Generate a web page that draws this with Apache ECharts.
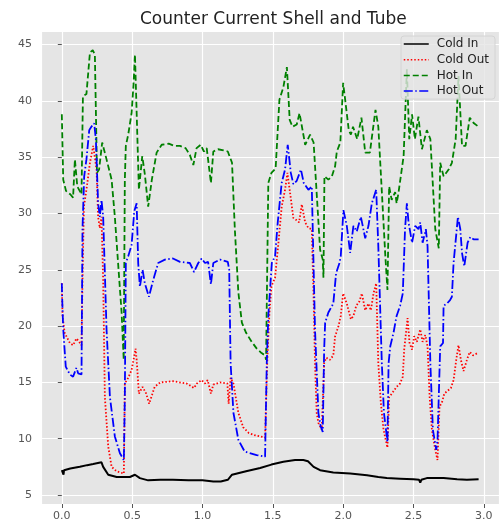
<!DOCTYPE html>
<html>
<head>
<meta charset="utf-8">
<script src="https://cdn.jsdelivr.net/npm/echarts@6/dist/echarts.min.js"></script>
<style>
html,body{margin:0;padding:0;background:#fff;}
#chart{width:499px;height:529px;}
</style>
</head>
<body>
<div id="chart"></div>
<script>
const titleText = 'Counter Current Shell and Tube';
const seriesNames = ['Cold In', 'Cold Out', 'Hot In', 'Hot Out'];

const coldIn = [[0.000,7.2],[0.008,7.3],[0.012,6.8],[0.016,7.2],[0.060,7.35],[0.128,7.5],[0.180,7.65],[0.223,7.75],[0.282,7.9],[0.294,7.5],[0.330,6.8],[0.390,6.6],[0.440,6.6],[0.484,6.6],[0.520,6.8],[0.555,6.5],[0.614,6.3],[0.700,6.35],[0.790,6.35],[0.900,6.3],[1.000,6.3],[1.077,6.2],[1.130,6.2],[1.180,6.35],[1.210,6.8],[1.310,7.1],[1.410,7.4],[1.490,7.7],[1.575,7.95],[1.658,8.1],[1.717,8.1],[1.750,8.0],[1.790,7.5],[1.836,7.2],[1.930,7.0],[2.050,6.9],[2.170,6.75],[2.250,6.6],[2.310,6.5],[2.405,6.45],[2.500,6.4],[2.540,6.35],[2.548,6.1],[2.556,6.35],[2.595,6.5],[2.714,6.5],[2.810,6.4],[2.880,6.35],[2.963,6.4]];

const coldOut = [[0.000,23.8],[0.005,20.9],[0.020,19.4],[0.057,18.5],[0.080,18.3],[0.104,18.9],[0.123,18.6],[0.140,18.3],[0.147,24.1],[0.157,30.6],[0.175,32.1],[0.200,34.5],[0.223,36.0],[0.235,36.1],[0.247,33.9],[0.258,29.7],[0.270,28.7],[0.282,29.7],[0.294,24.1],[0.306,13.7],[0.330,9.3],[0.354,7.5],[0.390,7.1],[0.441,6.9],[0.448,14.9],[0.472,15.4],[0.496,16.1],[0.510,17.0],[0.524,18.0],[0.532,17.0],[0.548,14.0],[0.574,14.6],[0.600,14.0],[0.621,13.1],[0.660,14.6],[0.700,15.0],[0.790,15.1],[0.887,14.9],[0.940,14.5],[0.960,14.9],[0.994,15.2],[1.018,14.9],[1.037,15.2],[1.060,14.0],[1.077,14.8],[1.125,15.0],[1.177,14.9],[1.186,13.1],[1.200,15.4],[1.220,14.9],[1.255,12.3],[1.290,11.0],[1.330,10.5],[1.374,10.3],[1.445,10.1],[1.460,16.7],[1.476,21.2],[1.490,23.5],[1.516,24.3],[1.540,27.4],[1.563,30.6],[1.587,32.1],[1.604,33.6],[1.623,31.8],[1.646,29.6],[1.670,29.4],[1.687,29.2],[1.706,30.8],[1.730,29.2],[1.753,28.7],[1.777,28.6],[1.790,22.6],[1.800,16.7],[1.812,12.3],[1.824,11.4],[1.848,10.8],[1.865,16.7],[1.880,17.2],[1.907,17.0],[1.930,17.4],[1.943,19.1],[1.967,20.0],[1.983,20.9],[2.000,22.9],[2.026,22.0],[2.055,20.6],[2.073,20.9],[2.093,21.8],[2.116,22.2],[2.133,22.9],[2.157,21.4],[2.180,22.0],[2.197,21.4],[2.216,22.9],[2.235,23.8],[2.250,16.7],[2.268,13.2],[2.287,10.8],[2.315,9.2],[2.327,13.7],[2.346,14.0],[2.380,14.6],[2.405,14.9],[2.424,15.5],[2.434,17.9],[2.458,20.7],[2.472,18.5],[2.490,17.9],[2.505,19.1],[2.524,18.6],[2.548,19.7],[2.565,18.6],[2.584,19.2],[2.600,18.2],[2.615,13.7],[2.631,10.8],[2.655,9.0],[2.671,8.1],[2.685,12.85],[2.702,13.2],[2.719,14.0],[2.738,14.2],[2.766,14.5],[2.785,15.2],[2.804,17.0],[2.820,18.3],[2.837,17.0],[2.856,16.0],[2.880,17.0],[2.900,17.7],[2.923,17.4],[2.956,17.6]];

const hotIn = [[0.000,38.8],[0.010,33.0],[0.030,32.0],[0.060,31.7],[0.080,31.4],[0.093,34.8],[0.110,32.4],[0.140,31.7],[0.150,40.4],[0.175,40.6],[0.200,44.3],[0.220,44.5],[0.235,44.1],[0.250,33.6],[0.265,33.9],[0.287,36.3],[0.318,34.8],[0.354,33.0],[0.377,29.7],[0.400,25.6],[0.425,21.2],[0.440,17.0],[0.448,33.0],[0.455,36.0],[0.472,37.0],[0.496,38.9],[0.510,41.5],[0.520,44.1],[0.530,44.0],[0.548,32.1],[0.572,35.1],[0.590,33.5],[0.614,30.6],[0.640,33.0],[0.674,35.4],[0.710,36.1],[0.760,36.2],[0.800,36.0],[0.840,36.0],[0.880,35.8],[0.910,35.2],[0.935,34.3],[0.958,35.8],[0.987,36.1],[1.010,35.5],[1.030,35.8],[1.060,32.7],[1.077,35.5],[1.110,35.7],[1.150,35.6],[1.180,35.5],[1.210,34.5],[1.230,28.6],[1.255,23.0],[1.280,20.3],[1.310,19.4],[1.350,18.6],[1.386,18.0],[1.420,17.6],[1.445,17.4],[1.452,17.0],[1.468,32.7],[1.490,33.6],[1.520,34.0],[1.547,40.1],[1.575,41.2],[1.600,43.0],[1.620,38.3],[1.640,37.7],[1.670,37.9],[1.690,38.9],[1.730,36.1],[1.765,37.0],[1.790,36.3],[1.836,26.8],[1.855,25.9],[1.860,24.3],[1.867,33.3],[1.895,33.0],[1.920,33.3],[1.943,34.2],[1.955,35.5],[1.980,36.3],[2.000,41.6],[2.040,37.4],[2.055,37.0],[2.070,37.7],[2.100,36.6],[2.130,38.5],[2.157,35.4],[2.190,35.4],[2.230,39.2],[2.250,37.7],[2.300,26.2],[2.315,23.2],[2.327,32.4],[2.345,31.2],[2.370,31.9],[2.380,30.9],[2.393,31.8],[2.430,35.1],[2.453,42.8],[2.470,36.6],[2.490,38.8],[2.510,36.6],[2.535,38.6],[2.560,35.7],[2.595,37.4],[2.620,36.6],[2.655,28.6],[2.680,26.9],[2.690,34.5],[2.714,33.3],[2.750,33.9],[2.773,34.5],[2.800,36.6],[2.820,42.2],[2.845,36.0],[2.870,36.0],[2.900,38.5],[2.930,38.0],[2.963,37.7]];

const hotOut = [[0.000,23.8],[0.003,22.3],[0.010,19.7],[0.028,16.4],[0.057,15.7],[0.080,15.5],[0.104,16.3],[0.116,15.8],[0.140,15.7],[0.147,28.6],[0.159,33.3],[0.175,34.8],[0.195,37.4],[0.210,37.7],[0.230,38.0],[0.242,36.6],[0.258,30.9],[0.270,29.7],[0.282,31.2],[0.294,29.7],[0.318,19.7],[0.342,13.7],[0.377,10.2],[0.413,8.7],[0.441,8.1],[0.448,13.7],[0.455,25.6],[0.472,26.2],[0.496,27.2],[0.515,30.2],[0.532,30.9],[0.543,25.6],[0.555,23.5],[0.574,25.0],[0.590,23.8],[0.619,22.6],[0.650,24.1],[0.685,25.6],[0.733,25.9],[0.790,26.0],[0.840,25.7],[0.910,25.6],[0.940,24.8],[0.970,25.6],[0.994,26.0],[1.018,25.6],[1.040,25.7],[1.060,23.7],[1.077,25.6],[1.125,25.9],[1.180,25.7],[1.190,25.0],[1.200,16.7],[1.220,12.3],[1.255,9.9],[1.300,8.85],[1.385,8.55],[1.445,8.4],[1.457,16.7],[1.468,20.9],[1.493,25.6],[1.516,26.2],[1.535,29.2],[1.563,32.7],[1.587,33.9],[1.606,36.1],[1.628,33.6],[1.646,32.6],[1.670,32.9],[1.700,33.9],[1.720,32.7],[1.753,32.1],[1.777,32.4],[1.800,19.7],[1.824,12.3],[1.840,11.1],[1.855,10.6],[1.865,17.9],[1.872,20.3],[1.895,21.2],[1.930,22.0],[1.950,24.7],[1.974,25.6],[1.983,26.2],[2.002,30.3],[2.026,28.9],[2.050,26.5],[2.073,28.9],[2.097,28.4],[2.126,29.7],[2.157,27.8],[2.180,28.9],[2.204,30.9],[2.235,32.1],[2.250,27.1],[2.275,16.7],[2.290,12.3],[2.315,9.7],[2.323,16.7],[2.335,18.2],[2.358,19.4],[2.380,20.9],[2.405,21.8],[2.424,22.9],[2.440,28.6],[2.453,30.9],[2.465,29.2],[2.490,27.4],[2.512,28.9],[2.536,28.6],[2.548,29.2],[2.565,27.4],[2.588,28.6],[2.600,27.1],[2.620,16.7],[2.638,10.8],[2.662,9.0],[2.671,9.9],[2.690,18.2],[2.710,18.5],[2.714,21.8],[2.738,22.0],[2.760,22.3],[2.773,22.6],[2.785,25.6],[2.816,29.7],[2.833,28.6],[2.845,26.5],[2.861,25.3],[2.885,27.4],[2.904,27.9],[2.927,27.7],[2.963,27.7]];

const chart = echarts.init(document.getElementById('chart'), null, {renderer: 'canvas'});

function mkSeries(name, data, color, type, width) {
  return {
    name: name, type: 'line', data: data, symbol: 'none', showSymbol: false,
    smooth: false, animation: false,
    lineStyle: {color: color, width: width, type: type},
    itemStyle: {color: color}
  };
}

const axisText = {color: '#555555', fontSize: 11, fontFamily: 'DejaVu Sans'};

chart.setOption({
  animation: false,
  backgroundColor: '#ffffff',
  title: {
    text: titleText, left: 135, top: 6,
    textStyle: {color: '#222222', fontSize: 17, fontWeight: 'normal', fontFamily: 'DejaVu Sans'}
  },
  grid: {left: 41, right: 0, top: 31, bottom: 25, show: true, backgroundColor: '#e5e5e5', borderWidth: 0},
  legend: {
    data: seriesNames, orient: 'vertical', right: 4, top: 36,
    backgroundColor: 'rgba(229,229,229,0.8)', borderColor: '#d4d4d4', borderWidth: 1, borderRadius: 3,
    padding: [2, 6, 2, 2], itemWidth: 25, itemHeight: 14, itemGap: 3.7,
    itemStyle: {color: 'rgba(0,0,0,0)', borderColor: 'rgba(0,0,0,0)', borderWidth: 0, opacity: 0},
    lineStyle: {width: 1.5},
    textStyle: {color: '#222222', fontSize: 12, fontFamily: 'DejaVu Sans', padding: [0, 0, 0, 3]}
  },
  xAxis: {
    type: 'value', min: -0.148, max: 3.108, splitNumber: 7,
    axisLine: {show: false},
    axisTick: {show: true, length: 4, lineStyle: {color: '#555555'}},
    axisLabel: Object.assign({margin: 7, showMinLabel: false, showMaxLabel: false, formatter: v => v.toFixed(1)}, axisText),
    splitLine: {show: true, lineStyle: {color: '#ffffff', width: 1.2}}
  },
  yAxis: {
    type: 'value', min: 4.2, max: 46.2, splitNumber: 8,
    axisLine: {show: false},
    axisTick: {show: true, length: 4, lineStyle: {color: '#555555'}},
    axisLabel: Object.assign({margin: 9, showMinLabel: false, showMaxLabel: false}, axisText),
    splitLine: {show: true, lineStyle: {color: '#ffffff', width: 1.2}}
  },
  series: [
    mkSeries(seriesNames[0], coldIn, '#000000', 'solid', 2),
    mkSeries(seriesNames[1], coldOut, '#ff0000', [1.5, 2], 1.8),
    mkSeries(seriesNames[2], hotIn, '#008000', [6, 3], 1.8),
    mkSeries(seriesNames[3], hotOut, '#0000ff', [9, 2.5, 1.5, 2.5], 1.8)
  ]
});
</script>
</body>
</html>
